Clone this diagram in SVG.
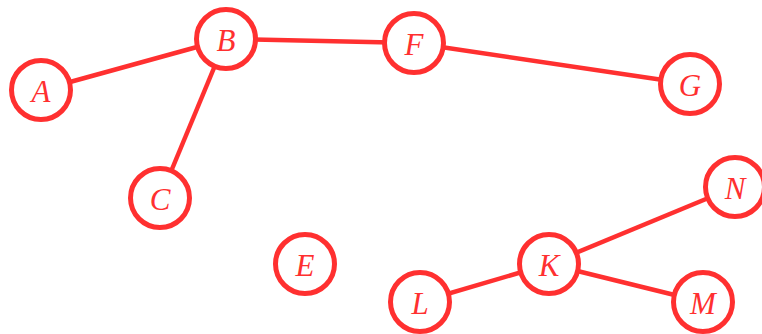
<svg xmlns="http://www.w3.org/2000/svg" width="762" height="334" viewBox="0 0 762 334">
<style>
.n circle{fill:#fff;stroke:#ff3030;stroke-width:5}
.n text{fill:#ff3030;font-family:"Liberation Serif",serif;font-style:italic;font-size:31px;text-anchor:middle;dominant-baseline:central}
.e line{stroke:#ff3030;stroke-width:4.5}
</style>
<rect width="762" height="334" fill="#fff"/>
<g id="edges" class="e">
<line x1="41" y1="90" x2="226" y2="39"/>
<line x1="226" y1="39" x2="160" y2="198"/>
<line x1="226" y1="39" x2="414" y2="43"/>
<line x1="414" y1="43" x2="690" y2="84"/>
<line x1="549" y1="264" x2="735" y2="187"/>
<line x1="549" y1="264" x2="703" y2="302"/>
<line x1="549" y1="264" x2="420" y2="302"/>
</g>
<g id="A" class="n"><circle cx="41" cy="90" r="29.5"/><text x="41" y="91">A</text></g>
<g id="B" class="n"><circle cx="226" cy="39" r="29.5"/><text x="226" y="40">B</text></g>
<g id="F" class="n"><circle cx="414" cy="43" r="29.5"/><text x="414" y="44">F</text></g>
<g id="G" class="n"><circle cx="690" cy="84" r="29.5"/><text x="690" y="85">G</text></g>
<g id="C" class="n"><circle cx="160" cy="198" r="29.5"/><text x="160" y="199">C</text></g>
<g id="E" class="n"><circle cx="305" cy="264" r="29.5"/><text x="305" y="265">E</text></g>
<g id="K" class="n"><circle cx="549" cy="264" r="29.5"/><text x="549" y="265">K</text></g>
<g id="L" class="n"><circle cx="420" cy="302" r="29.5"/><text x="420" y="303">L</text></g>
<g id="N" class="n"><circle cx="735" cy="187" r="29.5"/><text x="735" y="188">N</text></g>
<g id="M" class="n"><circle cx="703" cy="302" r="29.5"/><text x="703" y="303">M</text></g>
</svg>
